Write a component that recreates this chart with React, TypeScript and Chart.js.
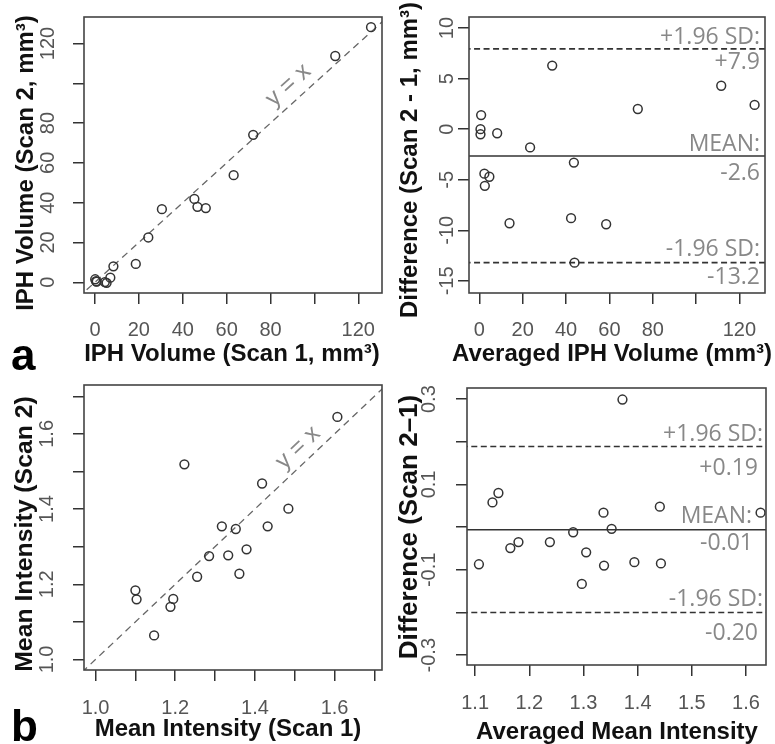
import React, { useEffect, useRef } from "react";
import { Chart, registerables } from "chart.js";
Chart.register(...registerables);

const W = 775;
const H = 744;

// ---------- Panel a: IPH volume ----------
const volumeScan1 = [125.8, 109.5, 72.1, 63.2, 45.3, 46.7, 50.5, 30.5, 24.3, 18.6, 8.4, 7.0, 5.3, 0.1, 0.5, 0.8, 4.5];
const volumeScan2 = [128.2, 113.7, 74.1, 53.8, 41.9, 37.9, 37.3, 36.7, 22.5, 9.2, 8.0, 2.3, -0.3, 1.5, 0.5, 0.3, 0.1];
const volumeAverage = [33.6, 111.6, 127.0, 73.1, 0.8, 0.5, 0.5, 8.2, 23.4, 43.6, 2.3, 4.6, 2.5, 13.9, 42.3, 58.5, 43.9];
const volumeDifference = [6.3, 4.3, 2.4, 2.0, 1.4, 0.0, -0.5, -0.4, -1.8, -3.3, -4.4, -4.7, -5.6, -9.3, -8.8, -9.4, -13.2];
const volumeLimitValues = [7.95, -2.65, -13.2];
const volumeLimitNames = ["+1.96 SD:", "MEAN:", "-1.96 SD:"];
const volumeLimitTexts = ["+7.9", "-2.6", "-13.2"];

const volumeTicks = [0, 20, 40, 60, 80, 100, 120];
const volumeTickLabels = ["0", "20", "40", "60", "80", "", "120"];
const volumeDiffTicks = [-15, -10, -5, 0, 5, 10];
const volumeDiffTickLabels = ["-15", "-10", "-5", "0", "5", "10"];
const volumeIdentity = [-20, 150];

// ---------- Panel b: mean intensity ----------
const intensityScan1 = [1.607, 1.223, 1.418, 1.484, 1.317, 1.352, 1.432, 1.379, 1.285, 1.333, 1.361, 1.255, 1.1, 1.103, 1.195, 1.188, 1.147];
const intensityScan2 = [1.645, 1.519, 1.468, 1.401, 1.354, 1.347, 1.354, 1.293, 1.275, 1.277, 1.228, 1.22, 1.184, 1.16, 1.161, 1.14, 1.064];
const intensityAverage = [1.372, 1.132, 1.143, 1.441, 1.337, 1.627, 1.352, 1.281, 1.165, 1.18, 1.238, 1.305, 1.107, 1.338, 1.394, 1.443, 1.297];
const intensityDifference = [0.299, 0.058, 0.08, 0.048, 0.034, 0.034, -0.004, -0.012, -0.049, -0.035, -0.035, -0.059, -0.087, -0.09, -0.082, -0.085, -0.133];
const intensityLimitValues = [0.189, -0.006, -0.2];
const intensityLimitNames = ["+1.96 SD:", "MEAN:", "-1.96 SD:"];
const intensityLimitTexts = ["+0.19", "-0.01", "-0.20"];

const intensityTicks = [1.0, 1.1, 1.2, 1.3, 1.4, 1.5, 1.6, 1.7];
const intensityTickLabels = ["1.0", "", "1.2", "", "1.4", "", "1.6", ""];
const avgIntensityTicks = [1.1, 1.2, 1.3, 1.4, 1.5, 1.6];
const avgIntensityTickLabels = ["1.1", "1.2", "1.3", "1.4", "1.5", "1.6"];
const diffIntensityTicks = [-0.3, -0.2, -0.1, 0, 0.1, 0.2, 0.3];
const diffIntensityTickLabels = ["-0.3", "", "-0.1", "", "0.1", "", "0.3"];
const intensityIdentity = [0.9, 1.8];

type Limits = {
  values: number[];
  names: string[];
  texts: string[];
  nameDy: number[];
  textDy: number[];
  nameRight: number[];
  textRight: number[];
};

type Panel = {
  area: [number, number, number, number];
  xRange: [number, number];
  yRange: [number, number];
  xTicks: number[];
  xTickLabels: string[];
  yTicks: number[];
  yTickLabels: string[];
  xLabelY: number;
  yLabelX: number;
  xTitle: string;
  yTitle: string;
  yTitleSize: number;
  xTitlePos: [number, number];
  yTitlePos: [number, number];
  xs: number[];
  ys: number[];
  identity?: { range: number[]; at: number; offset: number };
  limits?: Limits;
  lineRange?: number[];
  letter?: { text: string; x: number; y: number };
};

const TICK_FONT = '20px "Liberation Sans", Arial, sans-serif';
const TITLE_FONT = 'bold 24px "Liberation Sans", Arial, sans-serif';
const NOTE_FONT = '23px "Open Sans", "Liberation Sans", sans-serif';
const IDENT_FONT = '24px "Liberation Sans", Arial, sans-serif';

const panels: Panel[] = [
  {
    area: [84, 17, 382, 293],
    xRange: [-5, 130.8],
    yRange: [-5.4, 133.3],
    xTicks: volumeTicks,
    xTickLabels: volumeTickLabels,
    yTicks: volumeTicks,
    yTickLabels: volumeTickLabels,
    xLabelY: 330,
    yLabelX: 48,
    xTitle: "IPH Volume (Scan 1, mm\u00B3)",
    yTitle: "IPH Volume (Scan 2, mm\u00B3)",
    yTitleSize: 24,
    xTitlePos: [232, 354],
    yTitlePos: [26, 163],
    xs: volumeScan1,
    ys: volumeScan2,
    identity: { range: volumeIdentity, at: 93, offset: 16 },
    letter: { text: "a", x: 11, y: 370 },
  },
  {
    area: [469, 17, 765, 293],
    xRange: [-4.8, 131.8],
    yRange: [-16.2, 11.1],
    xTicks: volumeTicks,
    xTickLabels: volumeTickLabels,
    yTicks: volumeDiffTicks,
    yTickLabels: volumeDiffTickLabels,
    xLabelY: 330,
    yLabelX: 447,
    xTitle: "Averaged IPH Volume (mm\u00B3)",
    yTitle: "Difference (Scan 2 - 1, mm\u00B3)",
    yTitleSize: 24,
    xTitlePos: [612, 354],
    yTitlePos: [410, 160],
    xs: volumeAverage,
    ys: volumeDifference,
    lineRange: volumeIdentity,
    limits: {
      values: volumeLimitValues,
      names: volumeLimitNames,
      texts: volumeLimitTexts,
      nameDy: [-5, -5.5, -6.5],
      textDy: [20, 23.5, 21.5],
      nameRight: [5, 5, 5],
      textRight: [5, 5, 5],
    },
  },
  {
    area: [84, 385, 382, 670],
    xRange: [0.971, 1.719],
    yRange: [0.972, 1.73],
    xTicks: intensityTicks,
    xTickLabels: intensityTickLabels,
    yTicks: intensityTicks,
    yTickLabels: intensityTickLabels,
    xLabelY: 708,
    yLabelX: 47,
    xTitle: "Mean Intensity (Scan 1)",
    yTitle: "Mean Intensity (Scan 2)",
    yTitleSize: 24.8,
    xTitlePos: [228, 729],
    yTitlePos: [25, 534],
    xs: intensityScan1,
    ys: intensityScan2,
    identity: { range: intensityIdentity, at: 1.534, offset: 15 },
    letter: { text: "b", x: 11, y: 741 },
  },
  {
    area: [467, 388, 766, 665],
    xRange: [1.085, 1.637],
    yRange: [-0.323, 0.326],
    xTicks: avgIntensityTicks,
    xTickLabels: avgIntensityTickLabels,
    yTicks: diffIntensityTicks,
    yTickLabels: diffIntensityTickLabels,
    xLabelY: 703,
    yLabelX: 429,
    xTitle: "Averaged Mean Intensity",
    yTitle: "Difference (Scan 2\u20131)",
    yTitleSize: 26,
    xTitlePos: [617, 732],
    yTitlePos: [410, 527],
    xs: intensityAverage,
    ys: intensityDifference,
    lineRange: intensityIdentity,
    limits: {
      values: intensityLimitValues,
      names: intensityLimitNames,
      texts: intensityLimitTexts,
      nameDy: [-5.5, -7, -6.7],
      textDy: [28.5, 20, 27.3],
      nameRight: [3, 14, 3],
      textRight: [8, 13, 8],
    },
  },
];

function makeConfig(p: Panel): any {
  const [l, t, r, b] = p.area;
  const datasets: any[] = [
    {
      type: "scatter",
      data: p.xs.map((x, i) => ({ x, y: p.ys[i] })),
      pointRadius: 4.4,
      pointBorderWidth: 1.5,
      pointBorderColor: "#333",
      pointBackgroundColor: "rgba(0,0,0,0)",
      clip: false,
    },
  ];
  if (p.identity) {
    datasets.push({
      type: "line",
      data: p.identity.range.map((v) => ({ x: v, y: v })),
      borderColor: "#666",
      borderWidth: 1.3,
      borderDash: [7, 5],
      pointRadius: 0,
      fill: false,
    });
  }
  if (p.limits && p.lineRange) {
    p.limits.values.forEach((v, i) => {
      datasets.push({
        type: "line",
        data: p.lineRange!.map((x) => ({ x, y: v })),
        borderColor: "#333",
        borderWidth: 1.6,
        borderDash: i === 1 ? [] : [6, 3.5],
        pointRadius: 0,
        fill: false,
      });
    });
  }

  const textPlugin = {
    id: "panelText",
    afterDraw(chart: any) {
      const ctx = chart.ctx as CanvasRenderingContext2D;
      const area = chart.chartArea;
      const xs = chart.scales.x;
      const ys = chart.scales.y;
      ctx.save();
      // box
      ctx.strokeStyle = "#444";
      ctx.lineWidth = 1.6;
      ctx.strokeRect(area.left, area.top, area.right - area.left, area.bottom - area.top);
      // x tick labels
      ctx.fillStyle = "#555";
      ctx.font = TICK_FONT;
      ctx.textAlign = "center";
      ctx.textBaseline = "middle";
      p.xTicks.forEach((v, i) => {
        const s = p.xTickLabels[i];
        if (s) ctx.fillText(s, xs.getPixelForValue(v), p.xLabelY);
      });
      // y tick labels (rotated)
      p.yTicks.forEach((v, i) => {
        const s = p.yTickLabels[i];
        if (!s) return;
        ctx.save();
        ctx.translate(p.yLabelX, ys.getPixelForValue(v));
        ctx.rotate(-Math.PI / 2);
        ctx.fillText(s, 0, 0);
        ctx.restore();
      });
      // titles
      ctx.fillStyle = "#111";
      ctx.font = TITLE_FONT;
      ctx.fillText(p.xTitle, p.xTitlePos[0], p.xTitlePos[1]);
      ctx.save();
      ctx.translate(p.yTitlePos[0], p.yTitlePos[1]);
      ctx.rotate(-Math.PI / 2);
      ctx.font = `bold ${p.yTitleSize}px "Liberation Sans", Arial, sans-serif`;
      ctx.fillText(p.yTitle, 0, 0);
      ctx.restore();
      // identity label
      if (p.identity) {
        const x0 = xs.getPixelForValue(p.identity.range[0]);
        const y0 = ys.getPixelForValue(p.identity.range[0]);
        const x1 = xs.getPixelForValue(p.identity.range[1]);
        const y1 = ys.getPixelForValue(p.identity.range[1]);
        const ang = Math.atan2(y1 - y0, x1 - x0);
        const cx = xs.getPixelForValue(p.identity.at) + Math.sin(ang) * p.identity.offset;
        const cy = ys.getPixelForValue(p.identity.at) - Math.cos(ang) * p.identity.offset;
        ctx.save();
        ctx.translate(cx, cy);
        ctx.rotate(ang);
        ctx.fillStyle = "#888";
        ctx.font = IDENT_FONT;
        ctx.fillText("y = x", 0, 0);
        ctx.restore();
      }
      // limit annotations
      if (p.limits) {
        const L = p.limits;
        ctx.fillStyle = "#888";
        ctx.font = NOTE_FONT;
        ctx.textAlign = "right";
        ctx.textBaseline = "alphabetic";
        L.values.forEach((v, i) => {
          const py = ys.getPixelForValue(v);
          ctx.fillText(L.names[i], area.right - L.nameRight[i], py + L.nameDy[i]);
          ctx.fillText(L.texts[i], area.right - L.textRight[i], py + L.textDy[i]);
        });
      }
      // panel letter
      if (p.letter) {
        ctx.fillStyle = "#000";
        ctx.font = 'bold 44px "Liberation Sans", Arial, sans-serif';
        ctx.textAlign = "left";
        ctx.textBaseline = "alphabetic";
        ctx.fillText(p.letter.text, p.letter.x, p.letter.y);
      }
      ctx.restore();
    },
  };

  const axis = (range: [number, number], ticks: number[], vertical: boolean) => ({
    type: "linear",
    min: range[0],
    max: range[1],
    afterBuildTicks: (scale: any) => {
      scale.ticks = ticks.map((v) => ({ value: v }));
    },
    afterFit: (scale: any) => {
      if (vertical) scale.width = 12;
      else scale.height = 12;
    },
    ticks: { display: false },
    grid: {
      drawOnChartArea: false,
      drawTicks: true,
      tickLength: 11,
      color: "#333",
      lineWidth: 1.5,
    },
    border: { display: false },
  });

  return {
    type: "scatter",
    data: { datasets },
    options: {
      responsive: false,
      animation: false,
      devicePixelRatio: 1,
      events: [],
      layout: {
        padding: { left: l - 12, top: t, right: W - r, bottom: H - b - 12 },
      },
      plugins: { legend: { display: false }, tooltip: { enabled: false } },
      scales: {
        x: axis(p.xRange, p.xTicks, false),
        y: axis(p.yRange, p.yTicks, true),
      },
    },
    plugins: [textPlugin],
  };
}

function PanelChart({ panel }: { panel: Panel }) {
  const ref = useRef<HTMLCanvasElement | null>(null);
  useEffect(() => {
    if (!ref.current) return;
    const chart = new Chart(ref.current, makeConfig(panel));
    return () => chart.destroy();
  }, [panel]);
  return (
    <canvas
      ref={ref}
      width={W}
      height={H}
      style={{ position: "absolute", left: 0, top: 0, width: W, height: H }}
    />
  );
}

export default function App() {
  return (
    <div style={{ position: "absolute", left: 0, top: 0, width: W, height: H, background: "#fff" }}>
      {panels.map((p, i) => (
        <PanelChart key={i} panel={p} />
      ))}
    </div>
  );
}
